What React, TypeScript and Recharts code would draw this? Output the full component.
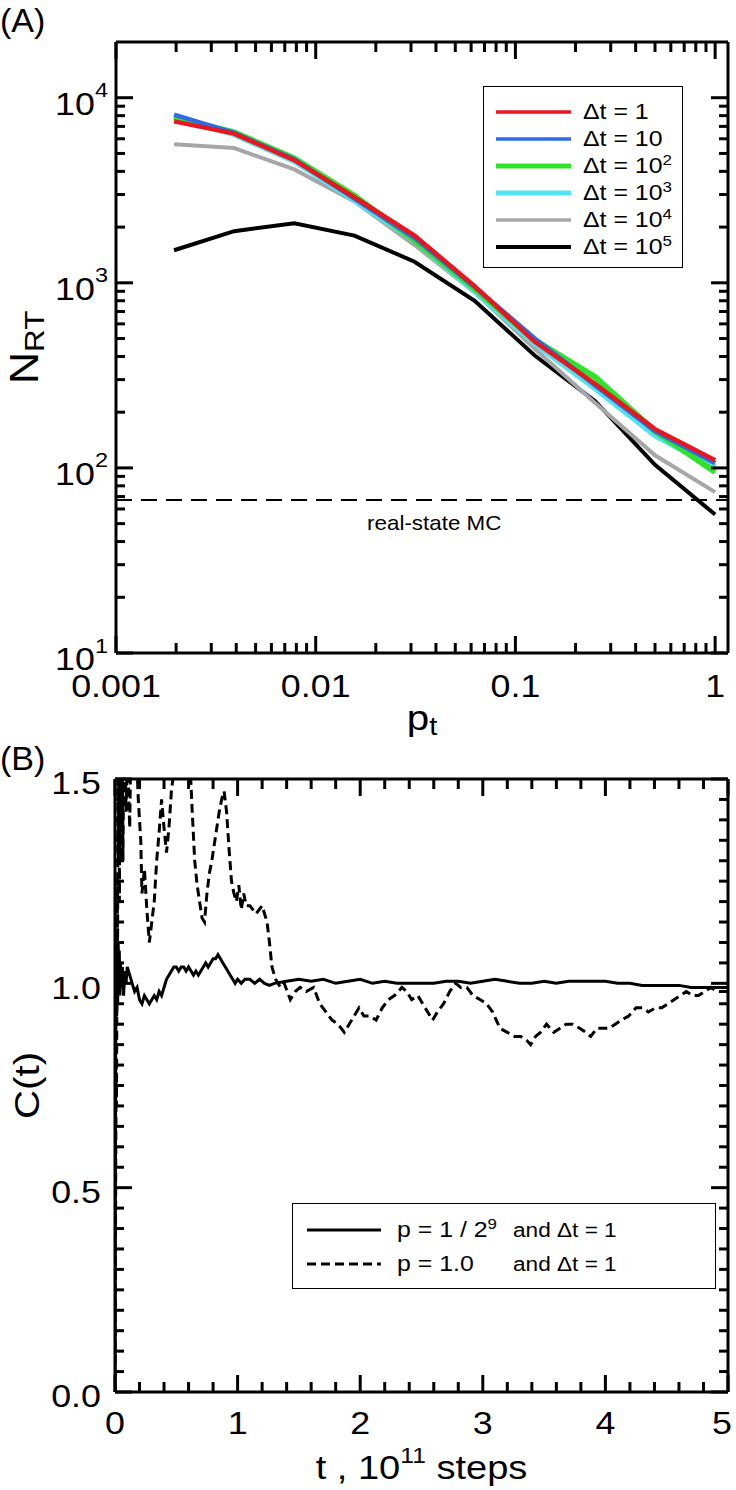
import React from "react";
import { LineChart, Line, XAxis, YAxis, ReferenceLine, Legend } from "recharts";

const FONT = '"Liberation Sans", Arial, Helvetica, sans-serif';

// ---- panel (A): N_RT against p_t ----
const pValues = [1 / 512, 1 / 256, 1 / 128, 1 / 64, 1 / 32, 1 / 16, 1 / 8, 1 / 4, 1 / 2, 1];
const nrtDt1 = [7450, 6400, 4600, 2900, 1800, 960, 480, 285, 162, 110];
const nrtDt10 = [8100, 6450, 4650, 2850, 1750, 950, 500, 280, 158, 106];
const nrtDt100 = [7800, 6500, 4700, 2950, 1700, 930, 490, 310, 158, 95];
const nrtDt1000 = [7900, 6350, 4550, 2800, 1700, 900, 470, 270, 150, 100];
const nrtDt10000 = [5600, 5350, 4100, 2750, 1600, 890, 440, 225, 117, 74];
const nrtDt100000 = [1500, 1900, 2100, 1800, 1300, 800, 405, 230, 104, 56];
const realStateMC = 67;

const dtExponents = [0, 1, 2, 3, 4, 5];
const dtColors = ["#e8161e", "#2d6be4", "#2fe22a", "#52e3f2", "#a6a6a6", "#000000"];
const dtWidths = [4.5, 4.5, 6, 6, 4, 4];
const dtLegendWidths = [3.5, 3.5, 5, 5, 3.5, 4];

const pMajorTicks = [0.001, 0.01, 0.1, 1];
const pTickLabels = ["0.001", "0.01", "0.1", "1"];
const nMajorTicks = [10, 100, 1000, 10000];
const nTickExponents = ["1", "2", "3", "4"];

// ---- panel (B): C(t) against t ----
const solidSeries: [number, number][] = [
  [0, 0], [0.003, 0.5], [0.006, 0.85], [0.01, 1.1], [0.014, 0.92], [0.018, 1.12], [0.022, 0.95],
  [0.026, 1.1], [0.03, 1.0], [0.035, 1.08], [0.04, 0.97], [0.045, 1.05], [0.05, 0.99], [0.06, 1.04],
  [0.07, 0.97], [0.08, 1.03], [0.09, 1.0], [0.1, 1.04], [0.12, 1.02], [0.14, 1.0], [0.16, 0.98],
  [0.18, 0.99], [0.2, 0.96], [0.22, 0.95], [0.24, 0.97], [0.26, 0.96], [0.28, 0.95], [0.3, 0.96],
  [0.32, 0.97], [0.34, 0.96], [0.36, 0.98], [0.38, 0.97], [0.4, 0.99], [0.42, 1.01], [0.44, 1.02],
  [0.46, 1.03], [0.48, 1.04], [0.5, 1.04], [0.52, 1.03], [0.54, 1.04], [0.56, 1.04], [0.58, 1.03],
  [0.6, 1.04], [0.62, 1.03], [0.64, 1.02], [0.66, 1.03], [0.68, 1.02], [0.7, 1.03], [0.72, 1.04],
  [0.74, 1.05], [0.76, 1.04], [0.78, 1.05], [0.8, 1.06], [0.82, 1.06], [0.84, 1.07], [0.86, 1.06],
  [0.88, 1.05], [0.9, 1.04], [0.92, 1.03], [0.94, 1.02], [0.96, 1.01], [0.98, 1.0], [1.0, 1.01],
  [1.03, 1.0], [1.06, 1.01], [1.1, 1.01], [1.14, 1.0], [1.18, 1.01], [1.22, 1.0], [1.26, 0.995],
  [1.3, 1.0], [1.4, 1.005], [1.5, 1.01], [1.6, 1.005], [1.7, 1.01], [1.8, 1.0], [1.9, 1.005],
  [2.0, 1.01], [2.1, 1.0], [2.2, 1.005], [2.3, 1.0], [2.4, 1.0], [2.5, 1.0], [2.6, 1.0],
  [2.7, 1.005], [2.8, 1.005], [2.9, 1.0], [3.0, 1.005], [3.1, 1.01], [3.2, 1.005], [3.3, 1.0],
  [3.4, 1.0], [3.5, 1.005], [3.6, 1.0], [3.7, 1.005], [3.8, 1.005], [3.9, 1.005], [4.0, 1.005],
  [4.1, 1.0], [4.2, 1.0], [4.3, 0.995], [4.4, 0.995], [4.5, 0.995], [4.6, 0.995], [4.7, 0.99],
  [4.8, 0.99], [4.9, 0.99], [5.0, 0.99],
];

const dashedSeries: [number, number][] = [
  [0, 0], [0.003, 0.3], [0.006, 0.55], [0.009, 0.8], [0.012, 0.7], [0.015, 0.95], [0.018, 1.25],
  [0.021, 1.05], [0.024, 1.6], [0.028, 1.3], [0.032, 1.6], [0.036, 1.2], [0.04, 1.55], [0.045, 1.3],
  [0.05, 1.6], [0.055, 1.4], [0.06, 1.6], [0.065, 1.3], [0.07, 1.5], [0.08, 1.6], [0.09, 1.42],
  [0.1, 1.55], [0.11, 1.48], [0.12, 1.38], [0.13, 1.6], [0.15, 1.52], [0.17, 1.6], [0.19, 1.45],
  [0.21, 1.35], [0.22, 1.22], [0.24, 1.28], [0.26, 1.18], [0.28, 1.1], [0.3, 1.15], [0.32, 1.2],
  [0.34, 1.3], [0.36, 1.37], [0.38, 1.45], [0.4, 1.38], [0.42, 1.32], [0.44, 1.38], [0.46, 1.47],
  [0.48, 1.52], [0.5, 1.6], [0.53, 1.55], [0.56, 1.6], [0.59, 1.5], [0.61, 1.55], [0.63, 1.42],
  [0.65, 1.3], [0.67, 1.24], [0.69, 1.2], [0.71, 1.16], [0.73, 1.15], [0.75, 1.22], [0.77, 1.27],
  [0.79, 1.3], [0.81, 1.34], [0.83, 1.38], [0.85, 1.42], [0.87, 1.45], [0.89, 1.47], [0.91, 1.42],
  [0.93, 1.33], [0.95, 1.25], [0.97, 1.22], [0.99, 1.2], [1.01, 1.24], [1.03, 1.18], [1.05, 1.22],
  [1.07, 1.19], [1.1, 1.19], [1.15, 1.17], [1.2, 1.19], [1.24, 1.15], [1.26, 1.1], [1.28, 1.04],
  [1.31, 1.01], [1.35, 0.99], [1.38, 1.0], [1.43, 0.96], [1.47, 0.98], [1.51, 0.99], [1.56, 0.98],
  [1.62, 0.99], [1.67, 0.95], [1.72, 0.93], [1.77, 0.91], [1.82, 0.9], [1.87, 0.88], [1.91, 0.9],
  [1.95, 0.92], [1.99, 0.94], [2.03, 0.92], [2.08, 0.92], [2.13, 0.91], [2.18, 0.94], [2.23, 0.96],
  [2.28, 0.97], [2.34, 0.99], [2.38, 0.98], [2.42, 0.96], [2.47, 0.97], [2.51, 0.95], [2.55, 0.93],
  [2.59, 0.91], [2.63, 0.93], [2.68, 0.95], [2.73, 0.98], [2.78, 1.0], [2.82, 0.99], [2.87, 0.99],
  [2.92, 0.97], [2.98, 0.96], [3.03, 0.95], [3.08, 0.93], [3.14, 0.89], [3.2, 0.88], [3.26, 0.87],
  [3.31, 0.87], [3.36, 0.86], [3.39, 0.85], [3.43, 0.87], [3.47, 0.88], [3.52, 0.9], [3.58, 0.88],
  [3.63, 0.89], [3.68, 0.9], [3.73, 0.9], [3.79, 0.89], [3.84, 0.88], [3.88, 0.87], [3.93, 0.89],
  [3.98, 0.89], [4.03, 0.89], [4.08, 0.9], [4.13, 0.91], [4.19, 0.92], [4.25, 0.94], [4.3, 0.94],
  [4.35, 0.93], [4.41, 0.94], [4.46, 0.94], [4.51, 0.95], [4.56, 0.96], [4.61, 0.97], [4.66, 0.98],
  [4.71, 0.97], [4.76, 0.97], [4.81, 0.98], [4.86, 0.99], [4.91, 0.98], [4.96, 0.98], [5.0, 0.98],
];

const tMajorTicks = [0, 1, 2, 3, 4, 5];
const tTickLabels = ["0", "1", "2", "3", "4", "5"];
const cMajorTicks = [0, 0.5, 1, 1.5];
const cTickLabels = ["0.0", "0.5", "1.0", "1.5"];

const pLegendMain = ["p = 1 / 2", "p = 1.0"];
const pLegendExp = ["9", ""];
const pLegendTail = "and \u0394t = 1";

// tick helpers
const logTicks = (majors: number[]) =>
  majors.flatMap((m, i) =>
    i === majors.length - 1 ? [m] : [1, 2, 3, 4, 5, 6, 7, 8, 9].map((k) => +(m * k).toPrecision(6))
  );
const linTicks = (lo: number, hi: number, step: number) =>
  Array.from({ length: Math.round((hi - lo) / step) + 1 }, (_, i) => +(lo + i * step).toFixed(4));

const pTicks = logTicks(pMajorTicks);
const nTicks = logTicks(nMajorTicks);
const tTicks = linTicks(0, 5, 0.2);
const cTicks = linTicks(0, 1.5, 0.05);

const frame = { stroke: "#000", strokeWidth: 3 };
const wide = { display: "inline-block", transform: "scaleX(1.13)", transformOrigin: "0 50%" };

type Side = "bottom" | "top" | "left" | "right";
const DIR: Record<Side, [number, number]> = { bottom: [0, -1], top: [0, 1], left: [1, 0], right: [-1, 0] };

function SText({ x, y, size, anchor = "middle", rotate = 0, children }: any) {
  return (
    <text
      transform={`translate(${x},${y}) rotate(${rotate}) scale(1.12,1)`}
      textAnchor={anchor}
      dominantBaseline="central"
      fontSize={size}
      fontFamily={FONT}
      fill="#000"
    >
      {children}
    </text>
  );
}

// inward ticks on every side, labels only on majors
function frameTick(
  side: Side,
  majors: number[],
  majorLen: number,
  minorLen: number,
  renderLabel?: (i: number, x: number, y: number) => React.ReactNode
) {
  return (props: any) => {
    const { x, y, payload } = props;
    const v = payload.value;
    const i = majors.findIndex((m) => Math.abs(m - v) < 1e-9 + Math.abs(m) * 1e-6);
    const len = i >= 0 ? majorLen : minorLen;
    const [dx, dy] = DIR[side];
    return (
      <g>
        <line x1={x} y1={y} x2={x + dx * len} y2={y + dy * len} stroke="#000" strokeWidth={3} />
        {i >= 0 && renderLabel ? renderLabel(i, x, y) : null}
      </g>
    );
  };
}

const chartAData = pValues.map((p, i) => ({
  p,
  dt0: nrtDt1[i],
  dt1: nrtDt10[i],
  dt2: nrtDt100[i],
  dt3: nrtDt1000[i],
  dt4: nrtDt10000[i],
  dt5: nrtDt100000[i],
}));

function DtLegend() {
  return (
    <div
      style={{
        border: "1.5px solid #000",
        background: "#fff",
        padding: "11px 0 7px 0",
        boxSizing: "border-box",
        width: 200,
        fontFamily: FONT,
      }}
    >
      {dtExponents.map((e, i) => (
        <div key={e} style={{ display: "flex", alignItems: "center", height: 27 }}>
          <svg width={87} height={10} style={{ flex: "none" }}>
            <line x1={12} x2={87} y1={5} y2={5} stroke={dtColors[i]} strokeWidth={dtLegendWidths[i]} />
          </svg>
          <span style={{ ...wide, marginLeft: 12, fontSize: 22, lineHeight: "22px" }}>
            {"\u0394t = "}
            {e === 0 ? "1" : "10"}
            {e > 1 ? <sup style={{ fontSize: 15, lineHeight: 0 }}>{e}</sup> : null}
          </span>
        </div>
      ))}
    </div>
  );
}

function PLegend() {
  return (
    <div
      style={{
        border: "1.5px solid #000",
        background: "#fff",
        padding: "9px 0 7px 0",
        boxSizing: "border-box",
        width: 424,
        fontFamily: FONT,
      }}
    >
      {pLegendMain.map((m, i) => (
        <div key={m} style={{ display: "flex", alignItems: "center", height: 34 }}>
          <svg width={88} height={10} style={{ flex: "none" }}>
            <line
              x1={14}
              x2={88}
              y1={5}
              y2={5}
              stroke="#000"
              strokeWidth={3}
              strokeDasharray={i === 1 ? "9 5" : undefined}
            />
          </svg>
          <span style={{ width: 116, flex: "none", marginLeft: 16 }}>
            <span style={{ ...wide, fontSize: 22 }}>
              {m}
              {pLegendExp[i] ? <sup style={{ fontSize: 15, lineHeight: 0 }}>{pLegendExp[i]}</sup> : null}
            </span>
          </span>
          <span style={{ ...wide, fontSize: 20 }}>{pLegendTail}</span>
        </div>
      ))}
    </div>
  );
}

function ChartA() {
  const xCommon = {
    dataKey: "p",
    type: "number" as const,
    scale: "log" as const,
    domain: [0.001, 1.16],
    allowDataOverflow: true,
    ticks: pTicks,
    interval: 0,
    tickSize: 0,
    tickMargin: 0,
    tickLine: false,
    axisLine: frame,
  };
  const yCommon = {
    type: "number" as const,
    scale: "log" as const,
    domain: [10, 20000],
    allowDataOverflow: true,
    ticks: nTicks,
    interval: 0,
    tickSize: 0,
    tickMargin: 0,
    tickLine: false,
    axisLine: frame,
  };
  const order = [5, 4, 3, 2, 1, 0];
  return (
    <LineChart width={736} height={745} data={chartAData} margin={{ top: 38, right: 4, bottom: 32, left: 56 }}>
      <XAxis
        xAxisId="b"
        {...xCommon}
        height={60}
        tick={frameTick("bottom", pMajorTicks, 17, 10, (i, x, y) => (
          <SText x={x} y={y + 33} size={32}>
            {pTickLabels[i]}
          </SText>
        ))}
        label={(p: any) => (
          <SText x={p.viewBox.x + p.viewBox.width / 2} y={p.viewBox.y + 64} size={36}>
            p<tspan dy={9} fontSize={26}>t</tspan>
          </SText>
        )}
      />
      <XAxis xAxisId="t" orientation="top" {...xCommon} height={4} tick={frameTick("top", pMajorTicks, 17, 10)} />
      <YAxis
        yAxisId="l"
        {...yCommon}
        width={60}
        tick={frameTick("left", nMajorTicks, 17, 9, (i, x, y) => (
          <SText x={x - 8} y={y + 6} size={32} anchor="end">
            10<tspan dy={-14} fontSize={21}>{nTickExponents[i]}</tspan>
          </SText>
        ))}
        label={(p: any) => (
          <SText x={24} y={p.viewBox.y + p.viewBox.height / 2} size={40} rotate={-90}>
            N<tspan dy={10} fontSize={28}>RT</tspan>
          </SText>
        )}
      />
      <YAxis yAxisId="r" orientation="right" {...yCommon} width={4} tick={frameTick("right", nMajorTicks, 17, 9)} />
      <ReferenceLine
        xAxisId="b"
        yAxisId="l"
        y={realStateMC}
        stroke="#000"
        strokeWidth={2}
        strokeDasharray="16 9"
        label={(p: any) => (
          <SText x={p.viewBox.x + p.viewBox.width * 0.52} y={p.viewBox.y + 23} size={20}>
            real-state MC
          </SText>
        )}
      />
      {order.map((i) => (
        <Line
          key={i}
          xAxisId="b"
          yAxisId="l"
          type="linear"
          dataKey={`dt${i}`}
          stroke={dtColors[i]}
          strokeWidth={dtWidths[i]}
          dot={false}
          isAnimationActive={false}
        />
      ))}
      <Legend
        layout="vertical"
        verticalAlign="middle"
        align="center"
        wrapperStyle={{ left: 483, top: 86, width: 200 }}
        content={() => <DtLegend />}
      />
    </LineChart>
  );
}

function ChartB() {
  const xCommon = {
    dataKey: "t",
    type: "number" as const,
    domain: [0, 5],
    allowDataOverflow: true,
    ticks: tTicks,
    interval: 0,
    tickSize: 0,
    tickMargin: 0,
    tickLine: false,
    axisLine: frame,
  };
  const yCommon = {
    type: "number" as const,
    domain: [0, 1.5],
    allowDataOverflow: true,
    ticks: cTicks,
    interval: 0,
    tickSize: 0,
    tickMargin: 0,
    tickLine: false,
    axisLine: frame,
  };
  const solid = solidSeries.map(([t, c]) => ({ t, c }));
  const dashed = dashedSeries.map(([t, c]) => ({ t, c }));
  const lastT = tTickLabels.length - 1;
  return (
    <LineChart width={736} height={745} margin={{ top: 30, right: 4, bottom: 38, left: 55 }}>
      <XAxis
        xAxisId="b"
        {...xCommon}
        height={60}
        tick={frameTick("bottom", tMajorTicks, 17, 10, (i, x, y) => (
          <SText x={i === lastT ? x - 6 : x} y={y + 31} size={32}>
            {tTickLabels[i]}
          </SText>
        ))}
        label={(p: any) => (
          <SText x={p.viewBox.x + p.viewBox.width / 2} y={p.viewBox.y + 75} size={34}>
            t , 10<tspan dy={-12} fontSize={22}>11</tspan>
            <tspan dy={12}> steps</tspan>
          </SText>
        )}
      />
      <XAxis xAxisId="t" orientation="top" {...xCommon} height={4} tick={frameTick("top", tMajorTicks, 17, 10)} />
      <YAxis
        yAxisId="l"
        {...yCommon}
        width={60}
        tick={frameTick("left", cMajorTicks, 17, 9, (i, x, y) => (
          <SText x={x - 14} y={y + 4} size={32} anchor="end">
            {cTickLabels[i]}
          </SText>
        ))}
        label={(p: any) => (
          <SText x={26} y={p.viewBox.y + p.viewBox.height / 2} size={36} rotate={-90}>
            C(t)
          </SText>
        )}
      />
      <YAxis yAxisId="r" orientation="right" {...yCommon} width={4} tick={frameTick("right", cMajorTicks, 17, 9)} />
      <Line
        xAxisId="b"
        yAxisId="l"
        data={dashed}
        dataKey="c"
        type="linear"
        stroke="#000"
        strokeWidth={3}
        strokeDasharray="9 5"
        dot={false}
        isAnimationActive={false}
      />
      <Line
        xAxisId="b"
        yAxisId="l"
        data={solid}
        dataKey="c"
        type="linear"
        stroke="#000"
        strokeWidth={3}
        dot={false}
        isAnimationActive={false}
      />
      <Legend
        layout="vertical"
        verticalAlign="middle"
        align="center"
        wrapperStyle={{ left: 292, top: 458, width: 424 }}
        content={() => <PLegend />}
      />
    </LineChart>
  );
}

export default function App() {
  return (
    <div style={{ position: "absolute", left: 0, top: 0, width: 736, height: 1490, background: "#fff", fontFamily: FONT }}>
      <div style={{ position: "absolute", left: 0, top: 0 }}>
        <ChartA />
      </div>
      <div style={{ position: "absolute", left: 0, top: 745 }}>
        <ChartB />
      </div>
      <div style={{ position: "absolute", left: 0, top: 0, fontSize: 34, lineHeight: "40px" }}>(A)</div>
      <div style={{ position: "absolute", left: 0, top: 738, fontSize: 34, lineHeight: "40px" }}>(B)</div>
    </div>
  );
}
